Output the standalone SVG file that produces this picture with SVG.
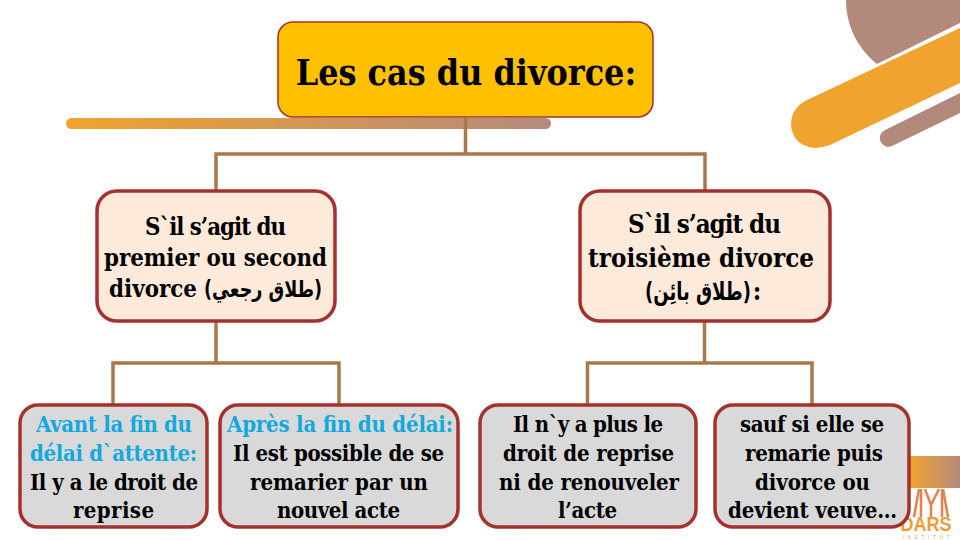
<svg xmlns="http://www.w3.org/2000/svg" width="960" height="540" viewBox="0 0 960 540">
<style>
text{font-family:"DejaVu Serif Condensed","DejaVu Serif","Liberation Serif",serif;font-weight:700;text-anchor:middle;fill:#000}
.l1{font-size:23.800px}
.l2{font-size:22px}
.l3{font-size:25.700px}
.b{fill:#12a8e0}
.r{stroke:#a5302c;stroke-width:3.500}
.m{fill:#fdeada}
.g{fill:#d9d9d9}
.c{fill:none;stroke:#a9784a;stroke-width:3.500}
.ar{font-family:"DejaVu Sans",sans-serif}
.lg{font-family:"Liberation Sans",sans-serif;fill:#ee9b3a}
</style>
<defs>
<linearGradient id="bar" x1="0" x2="1" y1="0" y2="0"><stop offset="0" stop-color="#f0a32e"/><stop offset="1" stop-color="#b58a7c"/></linearGradient>
<linearGradient id="lm" x1="0" x2="0" y1="0" y2="1"><stop offset="0" stop-color="#ee9b3a"/><stop offset="1" stop-color="#e0604a"/></linearGradient>
</defs>
<g id="decor">
<path d="M846 0H960V23L877 64C857 48 846 25 846 0Z" fill="#b3897c"/>
<path d="M960 28L807 100Q791 108 791 125Q793 146 815 148Q822 148 830 145L960 83Z" fill="#f0a32e"/>
<path d="M960 93L885 130A8.500 8.500 0 0 0 892 146L960 113Z" fill="#b3897c"/>
<rect x="66" y="118" width="485" height="11" rx="5.500" fill="url(#bar)"/>
<rect x="909" y="456" width="51" height="32" fill="url(#bar)"/>
</g>
<g id="logo">
<path d="M919 489L914 517M925 489L931 505L939 489M931 505V517M943 489L948 517M921 489V517M942 489V517" fill="none" stroke="#e8804a" stroke-width="2.500"/>
<text class="lg" x="926" y="530.500" textLength="51" lengthAdjust="spacingAndGlyphs" style="font-size:20.500px">DARS</text>
<text class="lg" x="926" y="539" textLength="47" style="font-size:4.500px;font-weight:400">INSTITUT</text>
</g>
<g id="connectors">
<path class="c" d="M465.500 118V154M216 190V154H705V190"/>
<path class="c" d="M216 322V363M113 405V363H339V405"/>
<path class="c" d="M704.500 322V363M587.500 405V363H812V405"/>
</g>
<g id="root"><rect x="278" y="22" width="375" height="95" rx="15" fill="#ffc000" stroke="#a5302c" stroke-width="1.500"/>
<text x="466" y="85" style="font-size:35.500px">Les cas du divorce:</text></g>
<g id="n1"><rect class="r m" x="97" y="191" width="238" height="130" rx="20"/>
<text class="l1" x="215.500" y="235" textLength="141">S`il s’agit du</text>
<text class="l1" x="215.500" y="266" textLength="223">premier ou second</text>
<text class="l1" x="153" y="297">divorce</text>
<text class="l1 ar" transform="translate(263 297) scale(.78 1)" style="font-size:22.500px">(طلاق رجعي)</text></g>
<g id="n2"><rect class="r m" x="580" y="191" width="250" height="130" rx="20"/>
<text class="l3" x="704.500" y="233" textLength="153">S`il s’agit du</text>
<text class="l3" x="701" y="267" textLength="226">troisième divorce</text>
<text class="l3 ar" transform="translate(698 300) scale(.72 1)" style="font-size:25px">(طلاق بائِن)</text>
<text class="l3" x="757" y="300">:</text></g>
<g id="n3"><rect class="r g" x="20" y="405" width="187" height="122" rx="18"/>
<text class="l2 b" x="114" y="432" textLength="156">Avant la fin du</text>
<text class="l2 b" x="113.500" y="461" textLength="167">délai d`attente:</text>
<text class="l2" x="114" y="490" textLength="168">Il y a le droit de</text>
<text class="l2" x="113.500" y="518" textLength="81">reprise</text></g>
<g id="n4"><rect class="r g" x="220" y="405" width="238" height="122" rx="18"/>
<text class="l2 b" x="340" y="432" textLength="226">Après la fin du délai:</text>
<text class="l2" x="338.500" y="461" textLength="211">Il est possible de se</text>
<text class="l2" x="339" y="490" textLength="178">remarier par un</text>
<text class="l2" x="338.500" y="518" textLength="123">nouvel acte</text></g>
<g id="n5"><rect class="r g" x="480" y="405" width="216" height="122" rx="18"/>
<text class="l2" x="588" y="432" textLength="150">Il n`y a plus le</text>
<text class="l2" x="588.500" y="461" textLength="171">droit de reprise</text>
<text class="l2" x="589" y="490" textLength="180">ni de renouveler</text>
<text class="l2" x="587.500" y="518" textLength="59">l’acte</text></g>
<g id="n6"><rect class="r g" x="715" y="405" width="194" height="122" rx="18"/>
<text class="l2" x="812" y="432" textLength="144">sauf si elle se</text>
<text class="l2" x="814" y="461" textLength="138">remarie puis</text>
<text class="l2" x="812.500" y="490" textLength="115">divorce ou</text>
<text class="l2" x="812.500" y="518" textLength="169">devient veuve…</text></g>
</svg>
